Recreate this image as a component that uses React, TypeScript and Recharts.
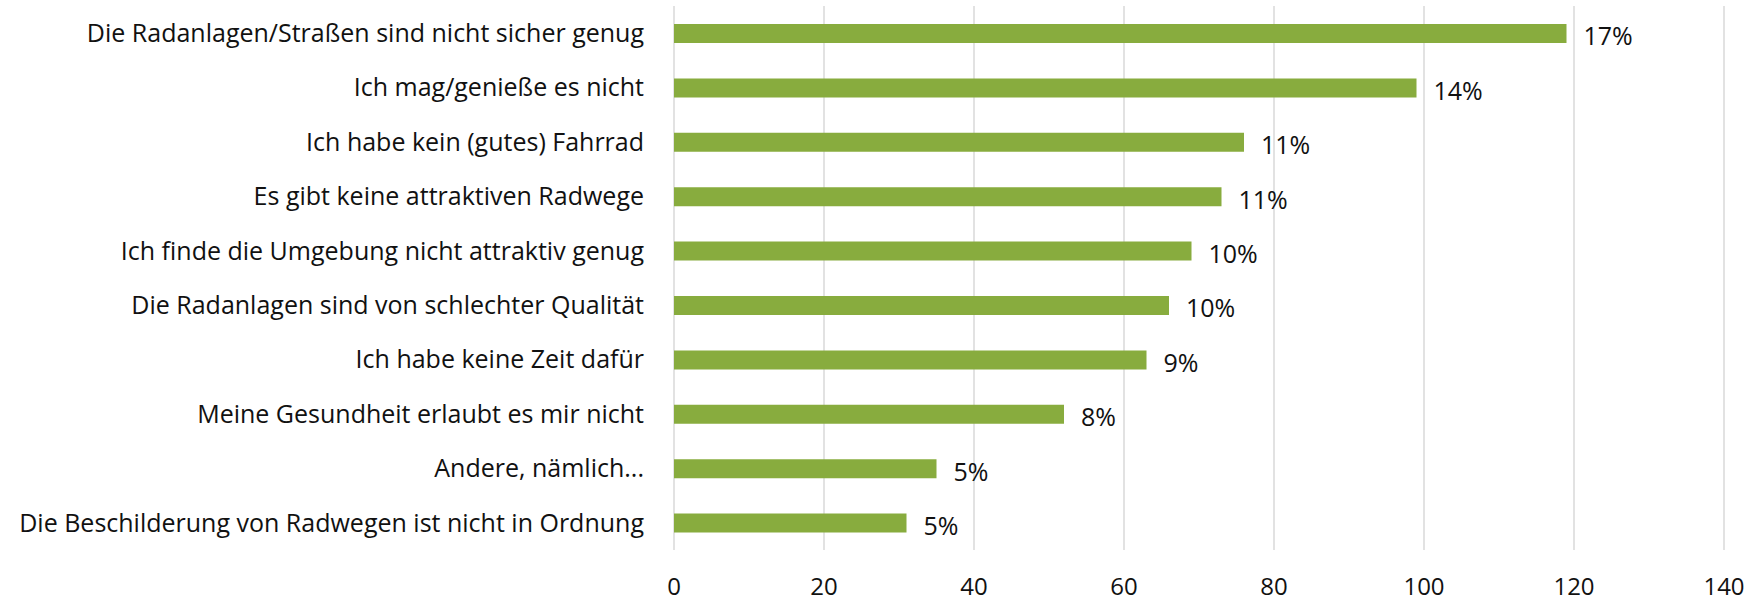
import { BarChart, Bar, XAxis, YAxis, CartesianGrid, LabelList } from "recharts";

const categories = [
  "Die Radanlagen/Straßen sind nicht sicher genug",
  "Ich mag/genieße es nicht",
  "Ich habe kein (gutes) Fahrrad",
  "Es gibt keine attraktiven Radwege",
  "Ich finde die Umgebung nicht attraktiv genug",
  "Die Radanlagen sind von schlechter Qualität",
  "Ich habe keine Zeit dafür",
  "Meine Gesundheit erlaubt es mir nicht",
  "Andere, nämlich...",
  "Die Beschilderung von Radwegen ist nicht in Ordnung",
];

const counts = [119, 99, 76, 73, 69, 66, 63, 52, 35, 31];

const shares = ["17%", "14%", "11%", "11%", "10%", "10%", "9%", "8%", "5%", "5%"];

const xTicks = [0, 20, 40, 60, 80, 100, 120, 140];

const data = categories.map((name, i) => ({
  name,
  value: counts[i],
  share: shares[i],
}));

const FONT = "'Open Sans', 'Noto Sans', sans-serif";
const TEXT = "#111111";

export default function App() {
  return (
    <div style={{ position: "absolute", left: 0, top: 0, width: 1761, height: 602, background: "#fff" }}>
      <BarChart
        width={1761}
        height={602}
        data={data}
        layout="vertical"
        margin={{ top: 6, right: 37, bottom: 12, left: 0 }}
      >
        <CartesianGrid horizontal={false} stroke="#d9d9d9" strokeWidth={1.5} />
        <XAxis
          type="number"
          domain={[0, 140]}
          ticks={xTicks}
          axisLine={false}
          tickLine={false}
          tickSize={0}
          tickMargin={28}
          height={40}
          tick={{ fontSize: 24, fill: TEXT, fontFamily: FONT }}
        />
        <YAxis
          type="category"
          dataKey="name"
          width={674}
          axisLine={false}
          tickLine={false}
          tickSize={0}
          tickMargin={30}
          interval={0}
          tick={{ fontSize: 25, fill: TEXT, fontFamily: FONT }}
        />
        <Bar dataKey="value" fill="#88ac3e" barSize={19} isAnimationActive={false}>
          <LabelList
            dataKey="share"
            position="right"
            offset={17}
            dy={3}
            style={{ fontSize: 25, fill: TEXT, fontFamily: FONT }}
          />
        </Bar>
      </BarChart>
    </div>
  );
}
